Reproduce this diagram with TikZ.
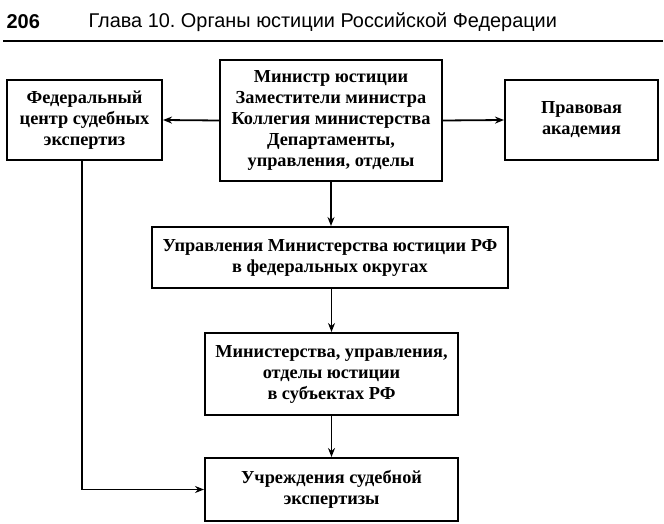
\documentclass[tikz,border=0pt]{standalone}
\usepackage{fontspec}
\setmainfont{Liberation Serif}
\newfontfamily\hdrfont{Liberation Sans}
\usetikzlibrary{arrows.meta}
\frenchspacing
\tikzset{
  box/.style={draw, line width=2pt, rectangle, align=center, inner sep=0pt,
    font=\bfseries\fontsize{18.3}{21}\selectfont},
  link/.style={line width=1.8pt, -{Stealth[length=9pt,width=7pt]}},
}
\begin{document}
\begin{tikzpicture}[x=1pt,y=-1pt]
\useasboundingbox (0,0) rectangle (664,524);
\node[anchor=west, font=\hdrfont\bfseries\fontsize{20}{22}\selectfont] (pg) at (3,22) {206};
\node[anchor=west, font=\hdrfont\fontsize{19.9}{22}\selectfont] (ttl) at (85,22) {Глава 10. Органы юстиции Российской Федерации};
\coordinate (r1) at (3,41);
\coordinate (r2) at (663,41);
\draw[line width=1.6pt] (r1) -- (r2);

\node[box, minimum width=222pt, minimum height=121pt] (c) at (331,120.5)
  {Министр юстиции\\Заместители министра\\Коллегия министерства\\Департаменты,\\управления, отделы};
\node[box, minimum width=155pt, minimum height=80pt] (l) at (84.5,120)
  {Федеральный\\центр судебных\\экспертиз};
\node[box, minimum width=153pt, minimum height=80pt] (r) at (581.5,120)
  {Правовая\\академия};
\node[box, minimum width=356pt, minimum height=61pt] (b2) at (330,257.5)
  {Управления Министерства юстиции РФ\\в федеральных округах};
\node[box, minimum width=253pt, minimum height=82pt] (b3) at (331.5,374)
  {Министерства, управления,\\отделы юстиции\\в субъектах РФ};
\node[box, minimum width=253pt, minimum height=63pt] (b4) at (331.5,489.5)
  {Учреждения судебной\\экспертизы};

\draw[link] (c.west) -- (l.east);
\draw[link] (c.east) -- (r.west);
\draw[link] (c.south) -- (c.south |- b2.north);
\draw[link] (b2.south -| b3.north) -- (b3.north);
\draw[link] (b3.south) -- (b4.north);
\draw[link] ([xshift=-2.5pt]l.south) |- (b4.west);
\end{tikzpicture}
\end{document}
